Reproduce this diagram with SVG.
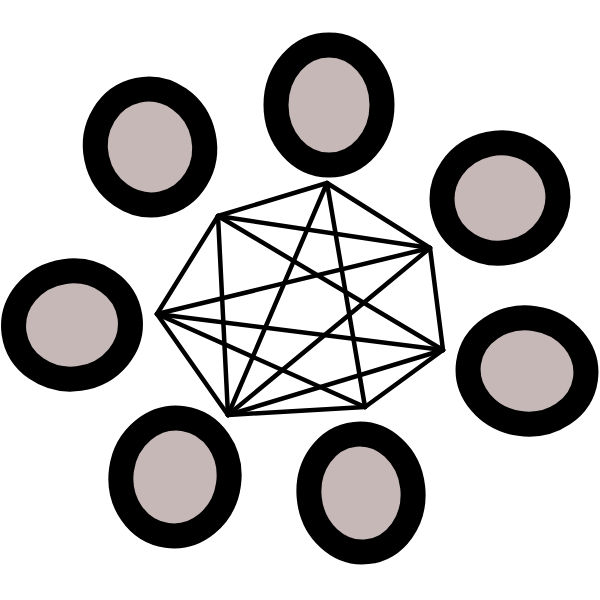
<svg xmlns="http://www.w3.org/2000/svg" width="600" height="600" viewBox="0 0 600 600">
<style>
.ring{fill:#c7b8b8;stroke:#000;stroke-width:25}
.edge{stroke:#000;stroke-width:4.5;fill:none;stroke-linecap:round}
</style>
<rect width="600" height="600" fill="#fff"/>
<g id="connectors">
<line class="edge" x1="327" y1="183" x2="218" y2="216"/>
<line class="edge" x1="327" y1="183" x2="430" y2="248"/>
<line class="edge" x1="327" y1="183" x2="228" y2="415"/>
<line class="edge" x1="327" y1="183" x2="365" y2="407"/>
<line class="edge" x1="430" y1="248" x2="218" y2="216"/>
<line class="edge" x1="430" y1="248" x2="157" y2="314"/>
<line class="edge" x1="430" y1="248" x2="228" y2="415"/>
<line class="edge" x1="430" y1="248" x2="443" y2="350"/>
<line class="edge" x1="443" y1="350" x2="365" y2="407"/>
<line class="edge" x1="443" y1="350" x2="228" y2="415"/>
<line class="edge" x1="443" y1="350" x2="157" y2="314"/>
<line class="edge" x1="443" y1="350" x2="218" y2="216"/>
<line class="edge" x1="365" y1="407" x2="228" y2="415"/>
<line class="edge" x1="365" y1="407" x2="157" y2="314"/>
<line class="edge" x1="228" y1="415" x2="157" y2="314"/>
<line class="edge" x1="228" y1="415" x2="218" y2="216"/>
<line class="edge" x1="157" y1="314" x2="218" y2="216"/>
</g>
<g id="node-top"><ellipse class="ring" cx="329" cy="105" rx="53" ry="60"/></g>
<g id="node-upper-left"><ellipse class="ring" cx="150" cy="147" rx="54.5" ry="58" transform="rotate(-12 150 147)"/></g>
<g id="node-upper-right"><ellipse class="ring" cx="500" cy="198" rx="58" ry="55" transform="rotate(-12 500 198)"/></g>
<g id="node-right"><ellipse class="ring" cx="527" cy="371" rx="59" ry="53" transform="rotate(8 527 371)"/></g>
<g id="node-bottom"><ellipse class="ring" cx="361" cy="493" rx="52" ry="59" transform="rotate(-6 361 493)"/></g>
<g id="node-bottom-left"><ellipse class="ring" cx="175" cy="477" rx="54" ry="59" transform="rotate(8 175 477)"/></g>
<g id="node-left"><ellipse class="ring" cx="72" cy="325" rx="58.5" ry="54" transform="rotate(-8 72 325)"/></g>
</svg>
